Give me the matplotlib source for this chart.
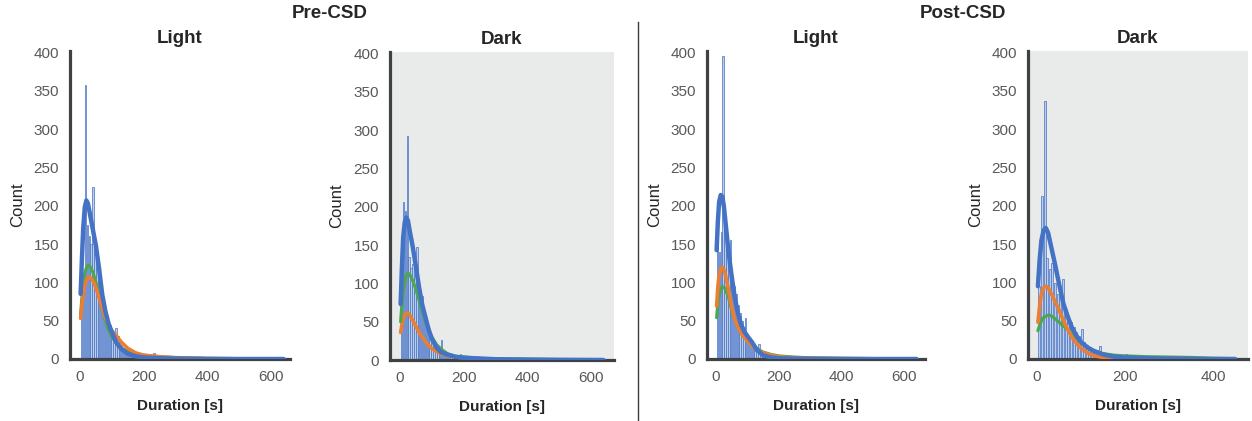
import matplotlib
matplotlib.use('Agg')
from matplotlib import pyplot as plt
from matplotlib.lines import Line2D

plt.rcParams['font.family'] = ['Liberation Sans', 'DejaVu Sans']

# histogram bins (centre of each 6 s bin)
bins = [5, 11, 17, 23, 29, 35, 41, 47, 53, 59, 65, 71, 77, 83, 89, 95, 101,
        107, 113, 119, 125, 131, 137, 143, 149, 155, 161, 167, 173, 179, 185,
        191, 197, 203, 209, 215, 221, 227, 233, 239, 245]

pre_light_counts = [85, 110, 358, 175, 160, 150, 225, 140, 125, 120, 95, 80,
                    60, 58, 50, 45, 38, 35, 40, 30, 22, 18, 15, 12, 10, 8, 7,
                    6, 5, 5, 4, 4, 3, 3, 4, 3, 2, 2, 8, 2, 1]
pre_dark_counts = [95, 206, 195, 293, 135, 120, 125, 110, 147, 95, 80, 84, 60,
                   50, 40, 32, 28, 22, 18, 15, 12, 26, 10, 8, 7, 6, 5, 4, 4,
                   3, 3, 8, 2, 2, 2, 1, 1, 1, 1, 0, 0]
post_light_counts = [150, 140, 166, 395, 170, 150, 140, 155, 110, 95, 85, 70,
                     60, 50, 42, 54, 30, 24, 20, 16, 13, 11, 19, 8, 6, 5, 4, 3,
                     3, 2, 2, 2, 1, 1, 1, 1, 0, 0, 0, 0, 0]
post_dark_counts = [95, 213, 337, 132, 117, 125, 99, 85, 80, 104, 65, 55, 48,
                    42, 35, 30, 39, 22, 18, 15, 13, 11, 9, 17, 6, 5, 4, 4, 3,
                    3, 2, 2, 2, 6, 1, 1, 1, 1, 0, 0, 0]

# density curves, sampled by hand along the duration axis
dur = [2, 6, 10, 15, 20, 25, 30, 40, 50, 60, 70, 80, 90, 100, 115, 130, 150,
       175, 200, 250, 300, 400, 500, 640]
dur_short = [2, 6, 10, 15, 20, 25, 30, 40, 50, 60, 70, 80, 90, 100, 115, 130,
             150, 175, 200, 250, 300, 350, 400, 450]

pre_light_blue = [85, 130, 170, 198, 207, 203, 192, 170, 148, 118, 84, 62, 46,
                  35, 21, 13, 7, 3.5, 2, 1, 0.5, 0, 0, 0]
pre_light_green = [58, 80, 98, 112, 119, 122, 122, 114, 100, 82, 64, 50, 38,
                   29, 20, 14, 10, 7, 5, 3, 2, 1, 0.5, 0.3]
pre_light_orange = [53, 70, 84, 96, 103, 106, 107, 103, 93, 80, 66, 54, 44, 37,
                    30, 22, 14, 8, 5, 3, 1.5, 0.5, 0.2, 0]

pre_dark_blue = [73, 120, 160, 180, 186, 182, 170, 148, 122, 95, 72, 56, 40,
                 28, 16, 10, 7, 4, 3, 2, 1, 0.5, 0.3, 0]
pre_dark_green = [50, 72, 90, 104, 111, 113, 112, 104, 92, 78, 64, 50, 38, 30,
                  20, 14, 8, 5, 4, 2, 1.5, 1, 0.5, 0.3]
pre_dark_orange = [36, 46, 54, 59, 61, 61, 59, 52, 44, 36, 30, 24, 19, 15, 11,
                   8, 6, 4, 3, 1.5, 1, 0.5, 0.2, 0]

post_light_blue = [142, 180, 205, 214, 212, 200, 180, 140, 108, 80, 60, 45, 36,
                   30, 22, 12, 5, 2, 1, 0.5, 0.3, 0, 0, 0]
post_light_orange = [69, 95, 110, 118, 120, 117, 110, 90, 68, 52, 42, 34, 28,
                     24, 17, 12, 8, 5, 3, 1.5, 1, 0.5, 0.3, 0]
post_light_green = [54, 72, 84, 91, 94, 94, 91, 80, 64, 52, 43, 36, 31, 27,
                    20, 14, 9, 6, 4, 2.5, 1.5, 1, 0.5, 0.3]

post_dark_blue = [95, 130, 155, 168, 171, 165, 152, 126, 98, 72, 55, 40, 30,
                  22, 15, 10, 6, 3, 2, 1, 0.5, 0.2, 0, 0]
post_dark_orange = [48, 70, 85, 93, 95, 93, 88, 76, 64, 50, 38, 28, 20, 14, 8,
                    4, 2, 1, 0.5, 0, 0, 0, 0, 0]
post_dark_green = [37, 44, 50, 54, 56, 57, 57, 53, 48, 43, 38, 32, 26, 22, 15,
                   11, 7, 5, 4, 3, 2.5, 2, 1, 0.5]

xticks_long = [0, 200, 400, 600]
xticks_short = [0, 200, 400]
yticks = [0, 50, 100, 150, 200, 250, 300, 350, 400]

BLUE = '#4472c4'
ORANGE = '#ed7d31'
GREEN = '#4ea651'
SPINE = '#3f4245'
GREY_BG = '#e9ebea'

W, H = 1252, 421
fig = plt.figure(figsize=(W / 100, H / 100), dpi=100)


def add_axes(left, right, bottom, top):
    return fig.add_axes([left / W, 1 - bottom / H, (right - left) / W, (bottom - top) / H])


panels = [
    dict(box=(70, 290, 359, 51), xlim=(-31.4, 660), xticks=xticks_long, title='Light',
         bg='white', counts=pre_light_counts, x=dur,
         curves=[(pre_light_green, GREEN, 2.3), (pre_light_orange, ORANGE, 2.6),
                 (pre_light_blue, BLUE, 3.2)]),
    dict(box=(390, 614, 360, 52), xlim=(-31.4, 673), xticks=xticks_long, title='Dark',
         bg=GREY_BG, counts=pre_dark_counts, x=dur,
         curves=[(pre_dark_orange, ORANGE, 2.6), (pre_dark_green, GREEN, 2.3),
                 (pre_dark_blue, BLUE, 3.2)]),
    dict(box=(707, 925, 359, 51), xlim=(-28.7, 667), xticks=xticks_long, title='Light',
         bg='white', counts=post_light_counts, x=dur,
         curves=[(post_light_green, GREEN, 2.3), (post_light_orange, ORANGE, 2.6),
                 (post_light_blue, BLUE, 3.2)]),
    dict(box=(1028, 1248, 359, 51), xlim=(-20.5, 479), xticks=xticks_short, title='Dark',
         bg=GREY_BG, counts=post_dark_counts, x=dur_short,
         curves=[(post_dark_green, GREEN, 2.3), (post_dark_orange, ORANGE, 2.6),
                 (post_dark_blue, BLUE, 3.2)]),
]

for p in panels:
    ax = add_axes(*p['box'])
    ax.set_facecolor(p['bg'])
    ax.bar(bins, p['counts'], width=4.5, color='#bccde9', edgecolor=BLUE,
           linewidth=0.5, zorder=2)
    for ys, col, lw in p['curves']:
        ax.plot(p['x'], ys, color=col, linewidth=lw, solid_capstyle='round',
                solid_joinstyle='round', zorder=3)
    ax.set_xlim(*p['xlim'])
    ax.set_ylim(0, 402)
    ax.set_xticks(p['xticks'])
    ax.set_yticks(yticks)
    ax.tick_params(length=0, labelsize=11, labelcolor='#595959', pad=8)
    for side in ['top', 'right']:
        ax.spines[side].set_visible(False)
    for side in ['left', 'bottom']:
        ax.spines[side].set_color(SPINE)
        ax.spines[side].set_linewidth(2.3)
    ax.set_title(p['title'], fontsize=13.5, fontweight='bold', color='#262626', pad=6)
    ax.set_xlabel('Duration [s]', fontsize=11, fontweight='bold', color='#262626', labelpad=11)
    ax.set_ylabel('Count', fontsize=12, color='#262626')
    ax.yaxis.set_label_coords(-0.205, 0.5)

fig.text(330 / W, 1 - 14 / H, 'Pre-CSD', ha='center', va='center',
         fontsize=13.5, fontweight='bold', color='#262626')
fig.text(963 / W, 1 - 14 / H, 'Post-CSD', ha='center', va='center',
         fontsize=13.5, fontweight='bold', color='#262626')
fig.add_artist(Line2D([638 / W, 638 / W], [0, 1 - 22 / H], transform=fig.transFigure,
                      color='#3a3a3a', linewidth=1))

fig.savefig('out.png', dpi=100)
